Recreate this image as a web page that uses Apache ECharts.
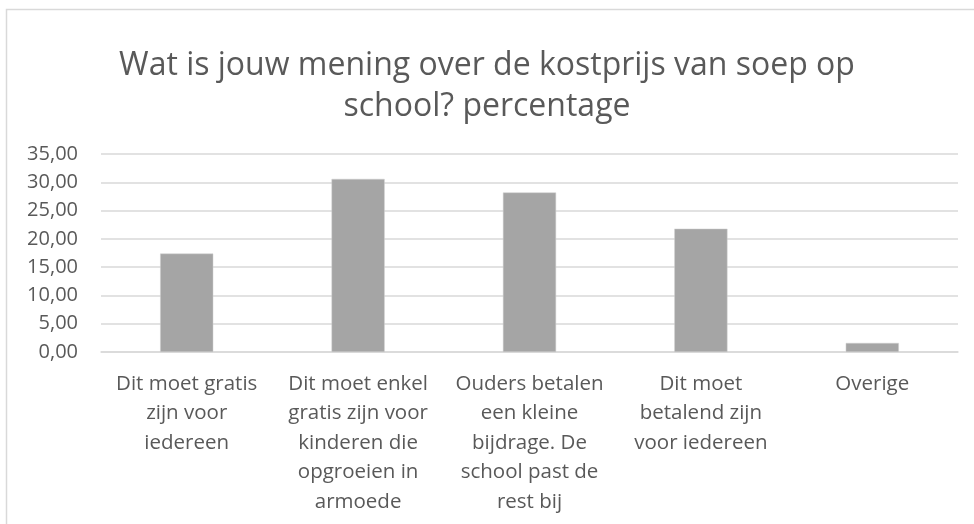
<!DOCTYPE html>
<html>
<head>
<meta charset="utf-8">
<script src="https://cdn.jsdelivr.net/npm/echarts@6/dist/echarts.min.js"></script>
<style>html,body{margin:0;padding:0;background:#fff}#c{width:974px;height:524px}</style>
</head>
<body>
<div id="c"></div>
<script>
var titleText = 'Wat is jouw mening over de kostprijs van soep op\nschool? percentage';
var categories = [
  'Dit moet gratis\nzijn voor\niedereen',
  'Dit moet enkel\ngratis zijn voor\nkinderen die\nopgroeien in\narmoede',
  'Ouders betalen\neen kleine\nbijdrage. De\nschool past de\nrest bij',
  'Dit moet\nbetalend zijn\nvoor iedereen',
  'Overige'
];
var percentages = [17.4, 30.6, 28.2, 21.8, 1.6];
var yMin = 0, yMax = 35, yStep = 5;

var chart = echarts.init(document.getElementById('c'), null, {renderer: 'canvas'});
var font = '"Open Sans", Lato, sans-serif';
chart.setOption({
  backgroundColor: '#ffffff',
  animation: false,
  graphic: [{
    type: 'rect',
    shape: {x: 6.5, y: 9.5, width: 980, height: 530},
    style: {fill: 'none', stroke: '#d9d9d9', lineWidth: 1.5},
    silent: true
  }],
  title: {
    text: titleText,
    left: 'center',
    top: 40,
    textStyle: {
      fontFamily: font, fontWeight: 'normal', fontSize: 32, lineHeight: 41, color: '#595959'
    }
  },
  grid: {left: 101, right: 16, top: 154, bottom: 172},
  xAxis: {
    type: 'category',
    data: categories,
    axisLine: {show: true, lineStyle: {color: '#d9d9d9', width: 1.5}},
    axisTick: {show: false},
    axisLabel: {
      interval: 0, margin: 17, fontFamily: font, fontSize: 20.5, lineHeight: 29.5, color: '#595959', align: 'center'
    }
  },
  yAxis: {
    type: 'value',
    min: yMin, max: yMax, interval: yStep,
    axisLine: {show: false},
    axisTick: {show: false},
    splitLine: {lineStyle: {color: '#d9d9d9', width: 1.5}},
    axisLabel: {
      margin: 23, fontFamily: font, fontSize: 20, color: '#595959',
      formatter: function (v) { return v.toFixed(2).replace('.', ','); }
    }
  },
  series: [{
    type: 'bar',
    data: percentages,
    barWidth: '31%',
    itemStyle: {color: '#a5a5a5', borderColor: '#d0d0d0', borderWidth: 0.5}
  }]
});
</script>
</body>
</html>
